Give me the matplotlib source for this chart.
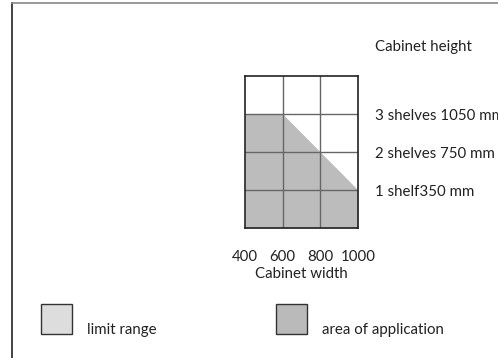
import matplotlib.pyplot as plt
from matplotlib.patches import Rectangle

W, H = 498, 358

# cabinet widths (mm) on the grid columns and the top of the application area in shelf rows
widths = [400, 600, 800, 1000]
area_top = [3, 3, 2, 1]
n_rows = 4
shelf_rows = [1, 2, 3]
shelf_labels = ["1 shelf350 mm", "2 shelves 750 mm", "3 shelves 1050 mm"]
legend_labels = ["limit range", "area of application"]
legend_colors = ["#dcdddc", "#bababa"]

plt.rcParams['font.family'] = ['Lato', 'DejaVu Sans']
fs = 10.8

fig = plt.figure(figsize=(W / 100, H / 100), dpi=100)

# background axes in pixel coordinates for frame and legend
bg = fig.add_axes([0, 0, 1, 1])
bg.set_xlim(0, W)
bg.set_ylim(H, 0)
bg.axis("off")
bg.plot([11.5, 11.5], [2.5, H], color="#222222", lw=1.2)
bg.plot([11.5, W], [2.5, 2.5], color="#888888", lw=1.2)

box_x = [41, 276]
text_x = [87, 322]
for bx, tx, lab, col in zip(box_x, text_x, legend_labels, legend_colors):
    bg.add_patch(Rectangle((bx, 304), 31, 30, facecolor=col, edgecolor="#333333", lw=1))
    bg.text(tx, 330, lab, fontsize=fs, va="center", ha="left", color="#222222")

bg.text(375, 47, "Cabinet height", fontsize=fs, va="center", ha="left", color="#222222")

# grid axes
left, right, top, bottom = 245, 358, 76, 228
ax = fig.add_axes([left / W, 1 - bottom / H, (right - left) / W, (bottom - top) / H])
ax.fill_between(widths, 0, area_top, color="#bcbcbc", lw=0)
ax.set_xlim(widths[0], widths[-1])
ax.set_ylim(0, n_rows)
for x in widths[1:-1]:
    ax.axvline(x, color="#666666", lw=1)
for y in range(1, n_rows):
    ax.axhline(y, color="#666666", lw=1)
for s in ax.spines.values():
    s.set_color("#222222")
    s.set_linewidth(1.2)

ax.set_xticks(widths)
ax.set_xticklabels([str(w) for w in widths], fontsize=fs, color="#222222")
ax.tick_params(axis="x", length=0, pad=16)
ax.set_xlabel("Cabinet width", fontsize=fs, color="#222222", labelpad=2)

ax.yaxis.tick_right()
ax.set_yticks(shelf_rows)
ax.set_yticklabels(shelf_labels, fontsize=fs, color="#222222")
ax.tick_params(axis="y", length=0, pad=12)

fig.savefig("out.png", dpi=100)
